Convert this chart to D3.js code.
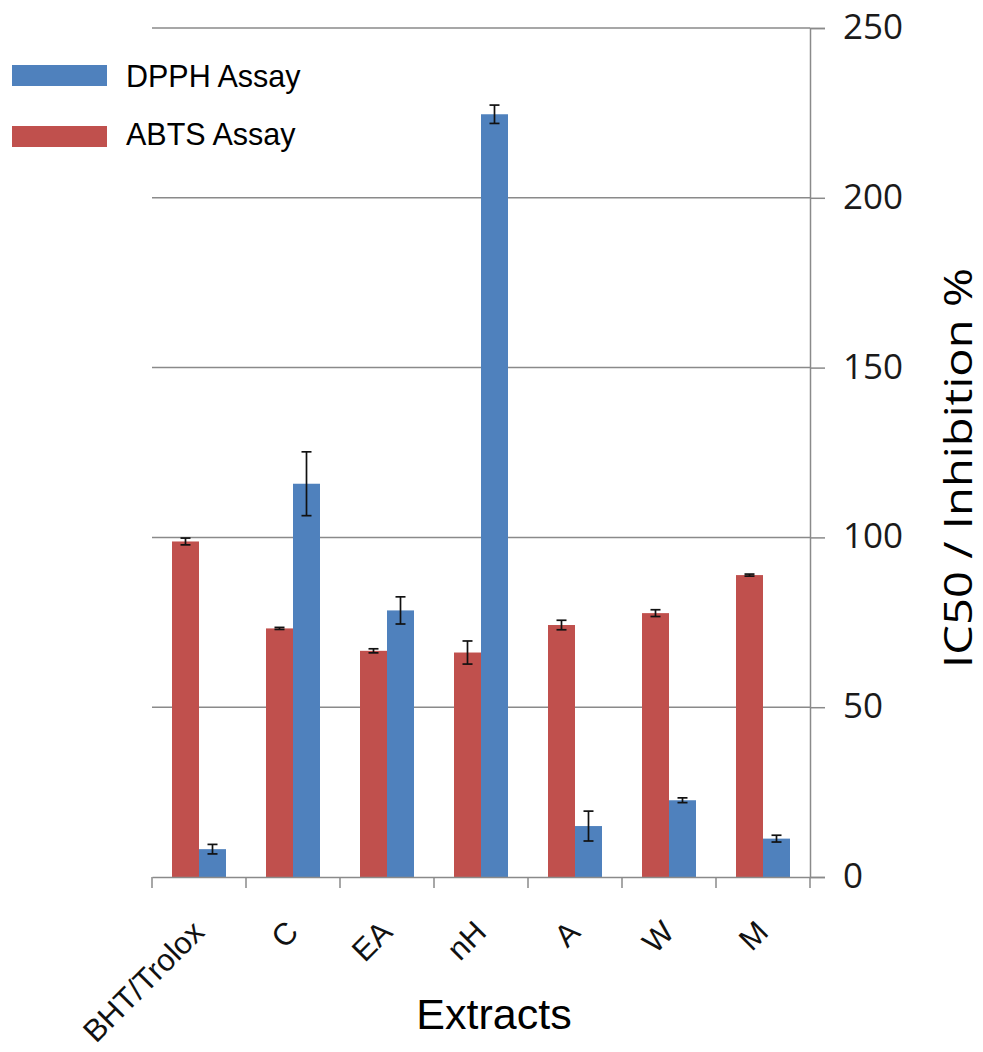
<!DOCTYPE html>
<html><head><meta charset="utf-8">
<script src="https://cdn.jsdelivr.net/npm/d3@7"></script>
<style>body{margin:0;background:#fff}svg{display:block}</style>
</head><body>
<script>
const categories = ["BHT/Trolox","C","EA","nH","A","W","M"];
const abts = [98.8, 73.2, 66.6, 66.1, 74.2, 77.7, 88.9];
const abtsErr = [1.0, 0.3, 0.6, 3.4, 1.4, 1.0, 0.3];
const dpph = [8.2, 115.8, 78.5, 224.6, 15.0, 22.6, 11.3];
const dpphErr = [1.4, 9.4, 4.0, 2.7, 4.4, 0.7, 1.0];
const yTicks = [0, 50, 100, 150, 200, 250];
const seriesNames = ["DPPH Assay", "ABTS Assay"];
const colors = {abts: "#C0504D", dpph: "#4F81BD"};

(function(){
const W = 983, H = 1052;
const svg = d3.select("body").append("svg").attr("width", W).attr("height", H);
const pL = 152, pR = 810, pT = 28, pB = 877;

const x = d3.scaleBand().domain(categories).range([pL, pR]).padding(0);
const y = d3.scaleLinear().domain([0, 250]).range([pB, pT]);
const bw = 27;

svg.append("g").selectAll("line").data(yTicks.filter(d => d > 0)).join("line")
  .attr("x1", pL).attr("x2", pR)
  .attr("y1", d => y(d)).attr("y2", d => y(d))
  .attr("stroke", "#8a8a8a").attr("stroke-width", 1.5);

const data = categories.map((c, i) => ({c, a: abts[i], ae: abtsErr[i], d: dpph[i], de: dpphErr[i]}));
const cx = c => x(c) + x.bandwidth() / 2;
svg.append("g").selectAll("rect").data(data).join("rect")
  .attr("x", d => cx(d.c) - bw).attr("width", bw)
  .attr("y", d => y(d.a)).attr("height", d => y(0) - y(d.a))
  .attr("fill", colors.abts);
svg.append("g").selectAll("rect").data(data).join("rect")
  .attr("x", d => cx(d.c)).attr("width", bw)
  .attr("y", d => y(d.d)).attr("height", d => y(0) - y(d.d))
  .attr("fill", colors.dpph);

function errBars(getX, getV, getE) {
  const g = svg.append("g").attr("stroke", "#111").attr("stroke-width", 1.7);
  data.forEach(d => {
    const xm = getX(d), v = getV(d), e = getE(d);
    g.append("line").attr("x1", xm).attr("x2", xm).attr("y1", y(v + e)).attr("y2", y(v - e));
    g.append("line").attr("x1", xm - 5).attr("x2", xm + 5).attr("y1", y(v + e)).attr("y2", y(v + e));
    g.append("line").attr("x1", xm - 5).attr("x2", xm + 5).attr("y1", y(v - e)).attr("y2", y(v - e));
  });
}
errBars(d => cx(d.c) - bw / 2, d => d.a, d => d.ae);
errBars(d => cx(d.c) + bw / 2, d => d.d, d => d.de);

const yAxis = d3.axisRight(y).tickValues(yTicks).tickSize(15).tickPadding(18);
const ya = svg.append("g").attr("transform", `translate(${pR},0)`).call(yAxis);
ya.select(".domain").attr("stroke", "#8a8a8a").attr("stroke-width", 1.5);
ya.selectAll(".tick line").attr("stroke", "#8a8a8a").attr("stroke-width", 1.5);
ya.selectAll(".tick text").attr("font-family", "Open Sans, sans-serif")
  .attr("font-size", 35).attr("fill", "#1a1a1a").attr("dy", "0.30em");

const xAxis = d3.axisBottom(x).tickSize(0).tickFormat("");
const xa = svg.append("g").attr("transform", `translate(0,${pB})`).call(xAxis);
xa.select(".domain").attr("stroke", "#8a8a8a").attr("stroke-width", 1.5);
const bounds = categories.map(c => x(c)).concat([pR]);
svg.append("g").selectAll("line").data(bounds).join("line")
  .attr("x1", d => d).attr("x2", d => d).attr("y1", pB).attr("y2", pB + 11)
  .attr("stroke", "#8a8a8a").attr("stroke-width", 1.5);

svg.append("g").selectAll("text").data(categories).join("text")
  .attr("transform", c => `translate(${cx(c) + 7},${pB + 57}) rotate(-45)`)
  .attr("text-anchor", "end")
  .attr("font-family", "Liberation Sans, Arial, sans-serif")
  .attr("font-size", 31).attr("fill", "#111")
  .text(c => c);

svg.append("text").attr("x", 494).attr("y", 1029).attr("text-anchor", "middle")
  .attr("font-family", "Liberation Sans, Arial, sans-serif").attr("font-size", 43)
  .attr("fill", "#000").text("Extracts");
svg.append("text").attr("transform", "translate(972,468) rotate(-90)")
  .attr("text-anchor", "middle")
  .attr("font-family", "Open Sans, sans-serif").attr("font-size", 38)
  .attr("textLength", 400).attr("lengthAdjust", "spacingAndGlyphs")
  .attr("fill", "#000").text("IC50 / Inhibition %");

const legend = [{name: seriesNames[0], color: colors.dpph, ry: 65, ty: 87},
                {name: seriesNames[1], color: colors.abts, ry: 126, ty: 144.5}];
const lg = svg.append("g").selectAll("g").data(legend).join("g");
lg.append("rect").attr("x", 12).attr("y", d => d.ry).attr("width", 95).attr("height", 21).attr("fill", d => d.color);
lg.append("text").attr("x", 126).attr("y", d => d.ty)
  .attr("font-family", "Liberation Sans, Arial, sans-serif").attr("font-size", 30.5)
  .attr("fill", "#000").text(d => d.name);
})();
</script>
</body></html>
